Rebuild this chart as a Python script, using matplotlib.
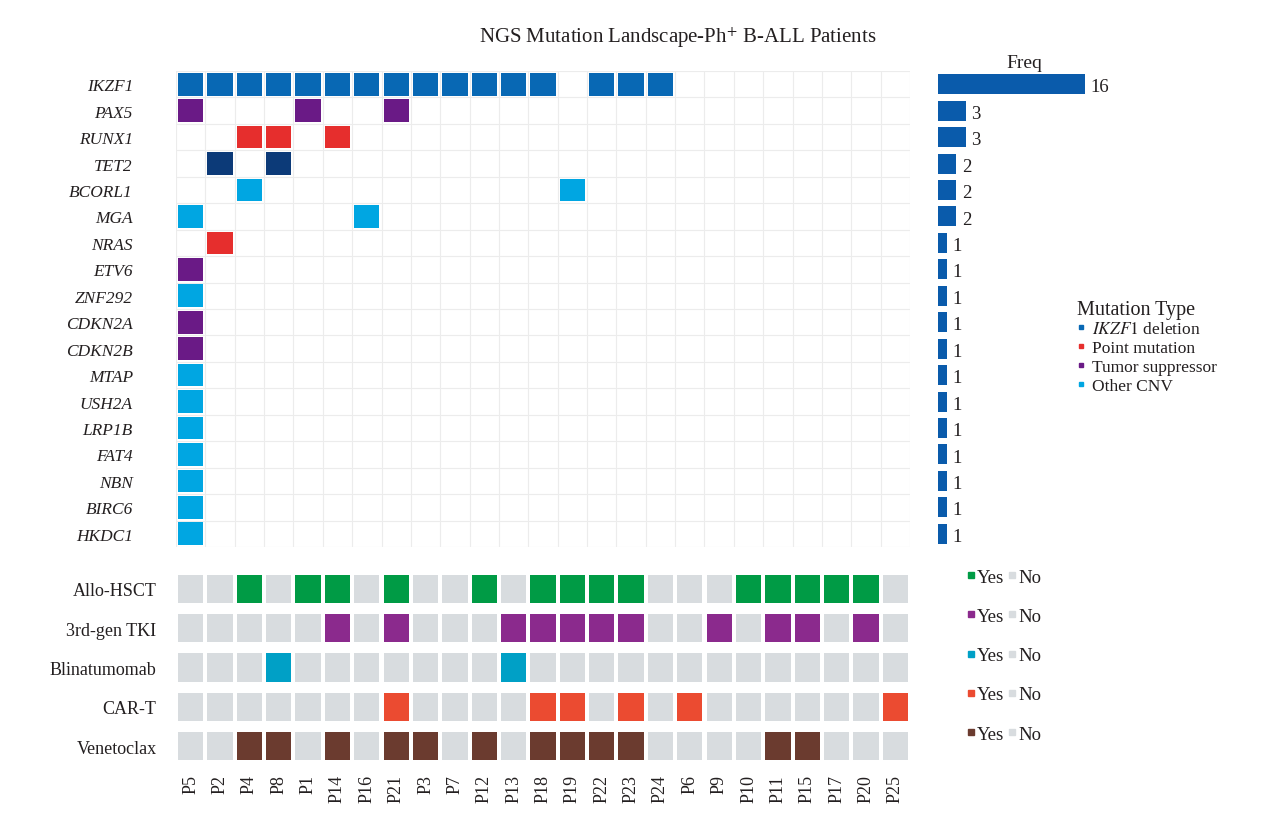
import matplotlib.pyplot as plt
from matplotlib.lines import Line2D

plt.rcParams['font.family'] = ['Liberation Serif', 'DejaVu Serif']
plt.rcParams['mathtext.fontset'] = 'stix'

# patients in display order
patients = ['P5', 'P2', 'P4', 'P8', 'P1', 'P14', 'P16', 'P21', 'P3', 'P7', 'P12', 'P13', 'P18',
            'P19', 'P22', 'P23', 'P24', 'P6', 'P9', 'P10', 'P11', 'P15', 'P17', 'P20', 'P25']

genes = ['IKZF1', 'PAX5', 'RUNX1', 'TET2', 'BCORL1', 'MGA', 'NRAS', 'ETV6', 'ZNF292', 'CDKN2A',
         'CDKN2B', 'MTAP', 'USH2A', 'LRP1B', 'FAT4', 'NBN', 'BIRC6', 'HKDC1']

gene_type = ['del', 'tsg', 'point', 'tet', 'cnv', 'cnv', 'point', 'tsg', 'cnv', 'tsg',
             'tsg', 'cnv', 'cnv', 'cnv', 'cnv', 'cnv', 'cnv', 'cnv']

gene_hits = [
    ['P5', 'P2', 'P4', 'P8', 'P1', 'P14', 'P16', 'P21', 'P3', 'P7', 'P12', 'P13', 'P18', 'P22', 'P23', 'P24'],
    ['P5', 'P1', 'P21'],
    ['P4', 'P8', 'P14'],
    ['P2', 'P8'],
    ['P4', 'P19'],
    ['P5', 'P16'],
    ['P2'],
    ['P5'], ['P5'], ['P5'], ['P5'], ['P5'], ['P5'], ['P5'], ['P5'], ['P5'], ['P5'], ['P5'],
]

type_colors = {'del': '#0868b4', 'point': '#e62e2d', 'tsg': '#6a1a86', 'cnv': '#00a6e2', 'tet': '#0c3a78'}
legend_types = [('del', '$\\it{IKZF1}$ deletion'), ('point', 'Point mutation'),
                ('tsg', 'Tumor suppressor'), ('cnv', 'Other CNV')]

treatments = ['Allo-HSCT', '3rd-gen TKI', 'Blinatumomab', 'CAR-T', 'Venetoclax']
treat_yes = [
    ['P4', 'P1', 'P14', 'P21', 'P12', 'P18', 'P19', 'P22', 'P23', 'P10', 'P11', 'P15', 'P17', 'P20'],
    ['P14', 'P21', 'P13', 'P18', 'P19', 'P22', 'P23', 'P9', 'P11', 'P15', 'P20'],
    ['P8', 'P13'],
    ['P21', 'P18', 'P19', 'P23', 'P6', 'P25'],
    ['P4', 'P8', 'P14', 'P21', 'P3', 'P12', 'P18', 'P19', 'P22', 'P23', 'P11', 'P15'],
]
treat_colors = ['#009b45', '#8b2a8d', '#00a0c6', '#eb4b31', '#6b3b2f']
no_color = '#d8dcdf'
freq_color = '#0a5bab'
text_color = '#231f20'

W, H = 1271, 820
fig = plt.figure(figsize=(W / 100, H / 100), dpi=100)

def box(l, t, r, b):
    return [l / W, 1 - b / H, (r - l) / W, (b - t) / H]

# mutation grid
ax = fig.add_axes(box(176, 72, 910, 548))
n_p = len(patients)
n_g = len(genes)
for g, hits in enumerate(gene_hits):
    xs = [patients.index(p) for p in hits]
    ax.bar(xs, 0.86, bottom=g - 0.43, width=0.86, color=type_colors[gene_type[g]], zorder=3)
ax.set_xlim(-0.5, n_p - 0.5)
ax.set_ylim(n_g - 0.5, -0.5)
ax.set_xticks([i + 0.5 for i in range(-1, n_p)], minor=True)
ax.set_yticks([i + 0.5 for i in range(-1, n_g)], minor=True)
ax.grid(which='minor', color='#ececec', linewidth=0.8, zorder=0)
ax.set_xticks([])
ax.set_yticks(range(n_g))
ax.set_yticklabels(genes, fontsize=12.5, style='italic', color=text_color)
ax.tick_params(axis='y', which='both', length=0, pad=31)
ax.tick_params(axis='x', which='both', length=0)
for s in ax.spines.values():
    s.set_visible(False)

# frequency bars
axf = fig.add_axes(box(938, 72, 1085, 548))
freq = [len(h) for h in gene_hits]
axf.barh(range(n_g), freq, height=0.76, color=freq_color)
for g, v in enumerate(freq):
    axf.text(v + 0.6, g + 0.1, str(v), va='center', ha='left', fontsize=13.5, color=text_color)
axf.set_xlim(0, 16)
axf.set_ylim(n_g - 0.5, -0.5)
axf.axis('off')
axf.set_title('Freq', fontsize=14, color=text_color, pad=3, x=0.59)

# treatment grid
axt = fig.add_axes(box(176, 570, 910, 767))
n_t = len(treatments)
for t, yes in enumerate(treat_yes):
    cols = [treat_colors[t] if p in yes else no_color for p in patients]
    axt.bar(range(n_p), 0.72, bottom=t - 0.36, width=0.86, color=cols)
axt.set_xlim(-0.5, n_p - 0.5)
axt.set_ylim(n_t - 0.5, -0.5)
axt.set_xticks(range(n_p))
axt.set_xticklabels(patients, rotation=90, fontsize=13, color=text_color)
axt.set_yticks(range(n_t))
axt.set_yticklabels(treatments, fontsize=13, color=text_color)
axt.tick_params(length=0)
axt.tick_params(axis='y', pad=14)
axt.tick_params(axis='x', pad=6)
for s in axt.spines.values():
    s.set_visible(False)

# mutation type legend
handles = [Line2D([], [], marker='s', linestyle='', markersize=3.5, color=type_colors[k]) for k, _ in legend_types]
leg = fig.legend(handles, [lab for _, lab in legend_types], loc='upper left',
                 bbox_to_anchor=(1068 / W, 1 - 292 / H), frameon=False, fontsize=12.5,
                 title='Mutation Type', title_fontsize=14.5, handlelength=0.5, handletextpad=0.4,
                 labelspacing=0.15, borderpad=0, alignment='left')
leg.get_title().set_color(text_color)
for txt in leg.get_texts():
    txt.set_color(text_color)

# yes / no legends
for t in range(n_t):
    yc = 578 + t * 39.25
    hs = [Line2D([], [], marker='s', linestyle='', markersize=5, color=treat_colors[t]),
          Line2D([], [], marker='s', linestyle='', markersize=5, color=no_color)]
    lg = fig.legend(hs, ['Yes', 'No'], loc='center left', bbox_to_anchor=(958 / W, 1 - yc / H),
                    ncol=2, frameon=False, fontsize=13.5, handlelength=0.4, handletextpad=0.1,
                    columnspacing=0.25, borderpad=0)
    for txt in lg.get_texts():
        txt.set_color(text_color)

fig.text(678 / W, 1 - 38 / H, 'NGS Mutation Landscape-Ph$^{+}$ B-ALL Patients',
         ha='center', va='center', fontsize=15, color=text_color)

fig.savefig('out.png', dpi=100, facecolor='white')
